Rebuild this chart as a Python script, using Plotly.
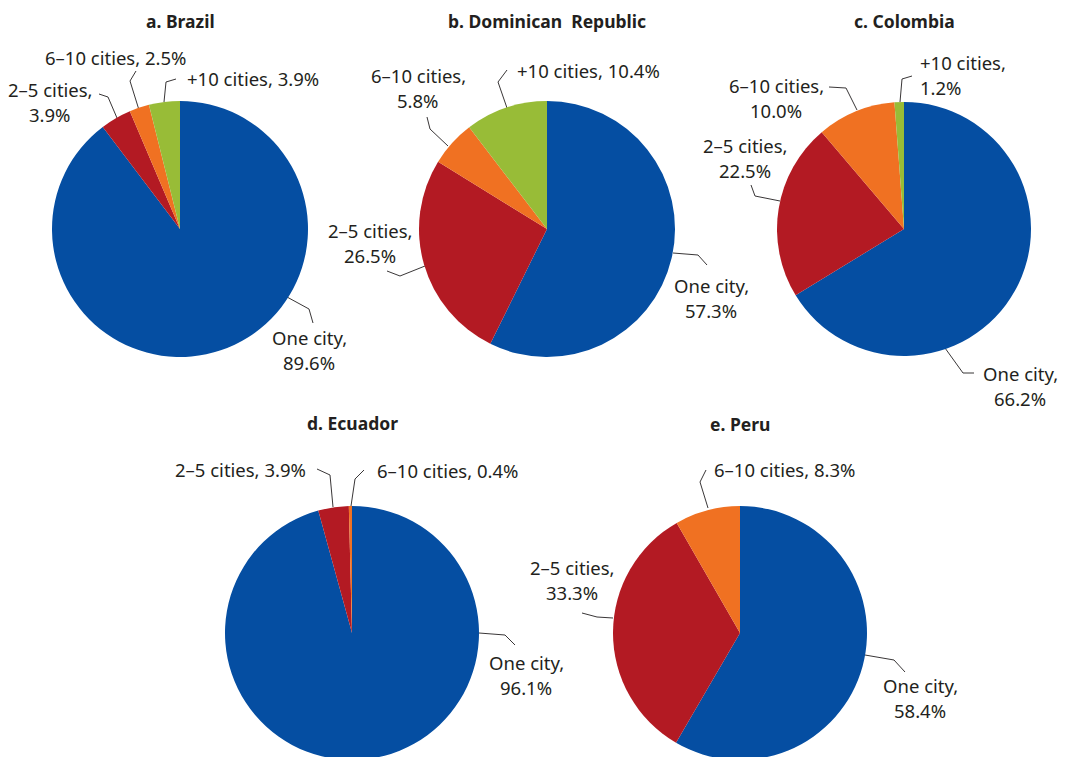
import plotly.graph_objects as go

W, H = 1066, 757
OFF = 8  # page body margin in the browser; layout is given in screen pixels

categories = ["One city", "2–5 cities", "6–10 cities", "+10 cities"]
colors = ["#054EA2", "#B31A23", "#F07122", "#98BC37"]

titles = ["a. Brazil", "b. Dominican  Republic", "c. Colombia", "d. Ecuador", "e. Peru"]
brazil = [89.6, 3.9, 2.5, 3.9]
dominican = [57.3, 26.5, 5.8, 10.4]
colombia = [66.2, 22.5, 10.0, 1.2]
ecuador = [96.1, 3.9, 0.4]
peru = [58.4, 33.3, 8.3]
series = [brazil, dominican, colombia, ecuador, peru]

# layout (screen pixels): pie centre, radius, title position
pie_geom = [
    (180, 229, 128, 21),
    (547, 229, 128, 21),
    (904, 229, 127, 21),
    (352, 633, 127, 423),
    (740, 633, 127, 424),
]

# label layout: (category index, x, first-line y, split, anchor, leader polyline)
label_layout = [
    [
        (0, 309, 337, True, "center", [(287, 297), (309, 309), (313, 323)]),
        (1, 50, 89, True, "center", [(117, 118), (108, 97), (99, 94)]),
        (2, 115, 57, False, "center", [(139, 110), (130, 81), (136, 71)]),
        (3, 253, 78, False, "center", [(164, 102), (166, 82), (176, 79)]),
    ],
    [
        (0, 711, 285, True, "center", [(673, 253), (698, 255), (707, 265)]),
        (1, 370, 230, True, "center", [(425, 266), (400, 276), (387, 271)]),
        (2, 418, 75, True, "center", [(448, 146), (430, 129), (427, 117)]),
        (3, 588, 70, False, "center", [(507, 108), (498, 82), (507, 70)]),
    ],
    [
        (0, 1020, 373, True, "center", [(945, 348), (963, 373), (974, 373)]),
        (1, 745, 145, True, "center", [(780, 201), (755, 196), (751, 185)]),
        (2, 776, 85, True, "center", [(857, 110), (846, 88), (829, 87)]),
        (3, 918, 62, True, "left", [(900, 102), (902, 79), (912, 76)]),
    ],
    [
        (0, 526, 662, True, "center", [(479, 633), (505, 635), (515, 645)]),
        (1, 240, 469, False, "center", [(333, 507), (330, 475), (317, 469)]),
        (2, 447, 470, False, "center", [(351, 506), (355, 479), (364, 470)]),
    ],
    [
        (0, 920, 685, True, "center", [(865, 655), (894, 660), (905, 672)]),
        (1, 572, 567, True, "center", [(613, 618), (597, 617), (582, 613)]),
        (2, 784, 469, False, "center", [(708, 508), (700, 482), (706, 470)]),
    ],
]

FONT = "Noto Sans"
TXT = "#231F20"
LINE_GAP = 25

fig = go.Figure()

for vals, (cx, cy, r, ty) in zip(series, pie_geom):
    n = len(vals)
    x0, x1 = (cx - r - OFF) / W, (cx + r - OFF) / W
    y0, y1 = 1 - (cy + r - OFF) / H, 1 - (cy - r - OFF) / H
    fig.add_trace(go.Pie(
        labels=categories[:n], values=vals,
        marker=dict(colors=colors[:n], line=dict(width=0)),
        sort=False, direction="clockwise", rotation=0,
        textinfo="none", hoverinfo="label+value", showlegend=False,
        domain=dict(x=[max(x0, 0), min(x1, 1)], y=[max(y0, 0), min(y1, 1)]),
    ))

annotations = []
for title, (cx, cy, r, ty) in zip(titles, pie_geom):
    annotations.append(dict(x=cx, y=ty, xref="x", yref="y", text="<b>" + title + "</b>",
                            showarrow=False, xanchor="center", yanchor="middle",
                            font=dict(family=FONT, size=17.5, color=TXT)))

for vals, labs in zip(series, label_layout):
    for (ci, lx, ly, split, anchor, pts) in labs:
        name = categories[ci]
        pct = f"{vals[ci]:.1f}%"
        lines = [name + ",", pct] if split else [f"{name}, {pct}"]
        for k, line in enumerate(lines):
            annotations.append(dict(x=lx, y=ly + k * LINE_GAP, xref="x", yref="y", text=line,
                                    showarrow=False, xanchor=anchor, yanchor="middle",
                                    font=dict(family=FONT, size=18.5, color=TXT)))
        fig.add_trace(go.Scatter(
            x=[p[0] for p in pts], y=[p[1] for p in pts], mode="lines",
            line=dict(color="#231F20", width=0.9), hoverinfo="skip", showlegend=False,
        ))

fig.update_layout(
    width=W, height=H,
    margin=dict(l=0, r=0, t=0, b=0),
    paper_bgcolor="white", plot_bgcolor="rgba(0,0,0,0)",
    xaxis=dict(range=[OFF, W + OFF], visible=False, fixedrange=True),
    yaxis=dict(range=[H + OFF, OFF], visible=False, fixedrange=True),
    annotations=annotations,
)

fig.write_html("out.html")
